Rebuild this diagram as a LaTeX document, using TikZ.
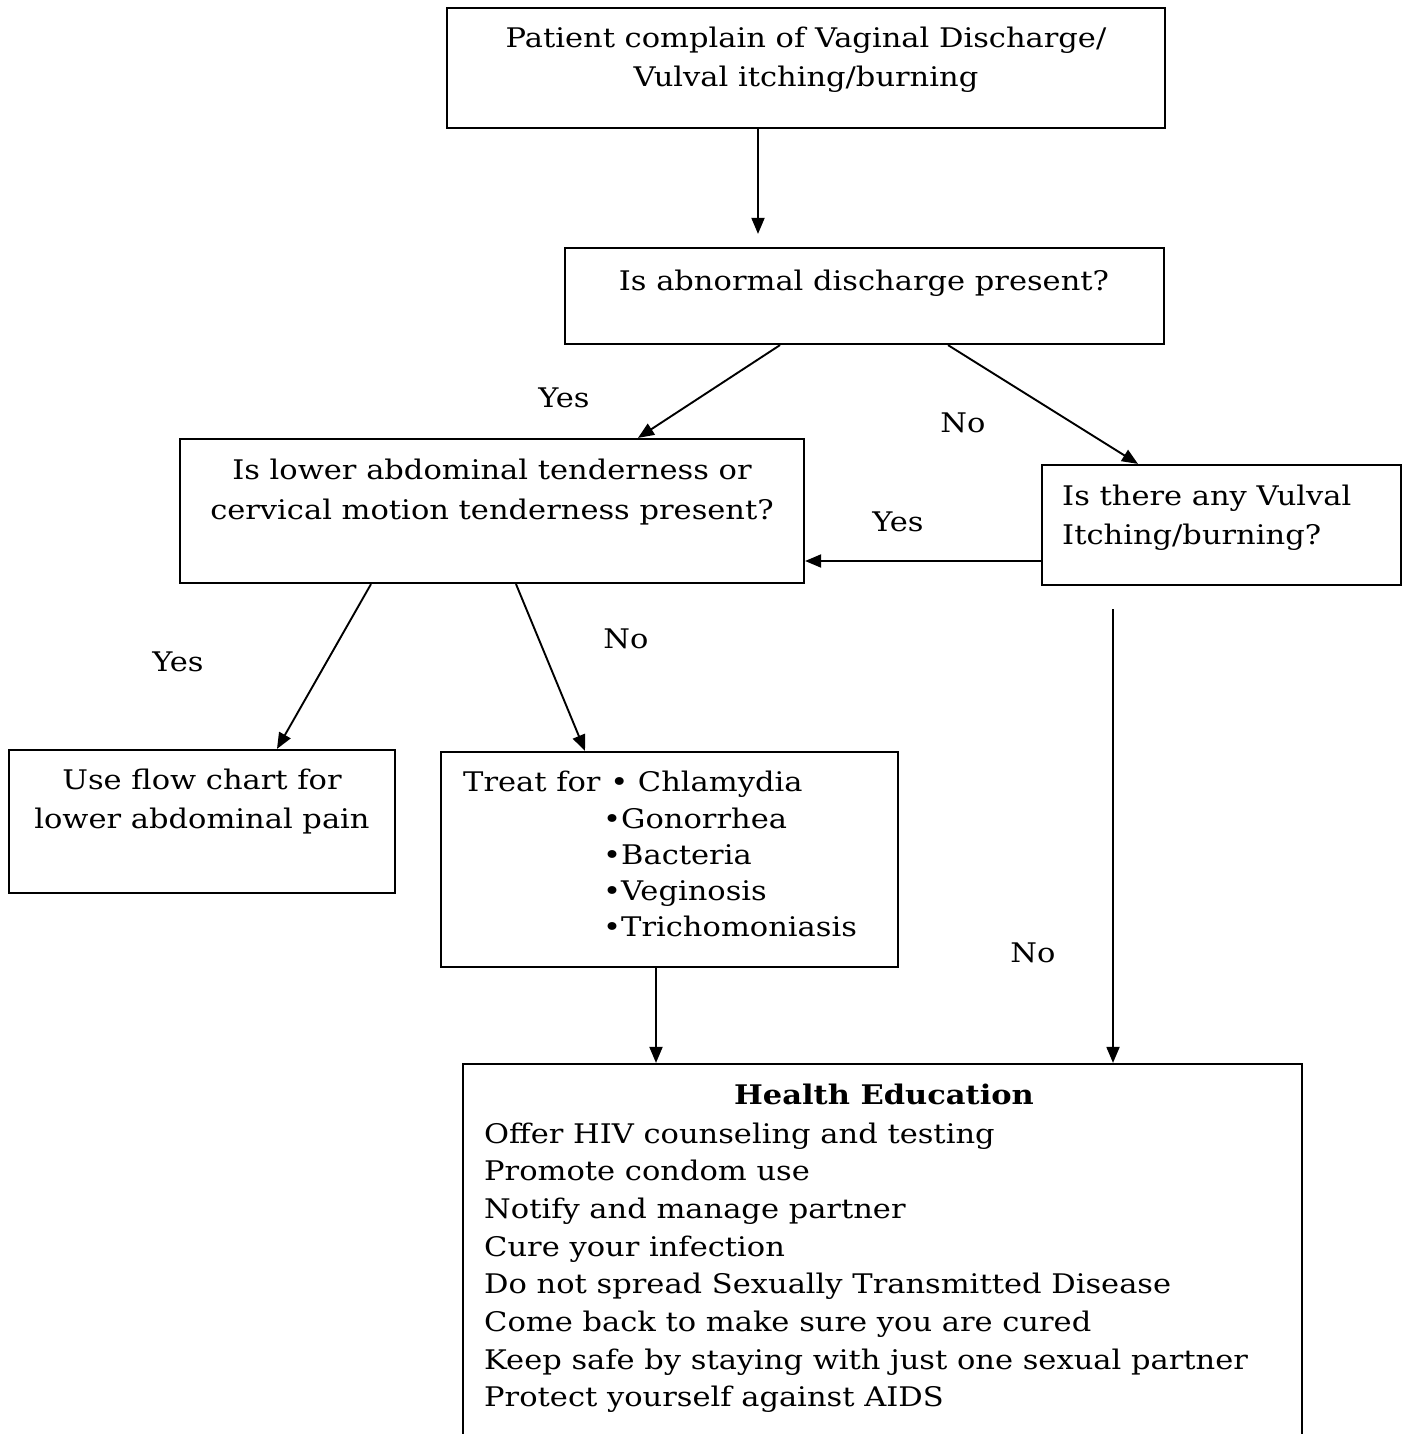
\documentclass[tikz,border=0pt]{standalone}
\usepackage{fontspec}
\setmainfont[FakeStretch=1.13]{DejaVu Serif}
\usetikzlibrary{arrows.meta}
% stacked lines whose baseline is the first line's baseline
\newcommand\txtlines[2]{\begin{tabular}[t]{@{}#1@{}}#2\end{tabular}}
\begin{document}
\begin{tikzpicture}[x=1pt,y=-1pt,
  box/.style={draw, line width=2.2pt, inner sep=0pt},
  flow/.style={-{Triangle[length=16pt,width=13pt]}, line width=1.9pt},
  txt/.style={inner sep=0pt, anchor=base},
  txtl/.style={inner sep=0pt, anchor=base west},
  lbl/.style={inner sep=0pt, anchor=base, font=\fontsize{27}{30}\selectfont}]
\useasboundingbox (0,0) rectangle (1409,1434);
\clip (0,0) rectangle (1409,1434);

% boxes
\node[box, minimum width=718pt, minimum height=120pt] (b1) at (806,68) {};
\node[box, minimum width=599pt, minimum height=96pt] (b2) at (864.5,296) {};
\node[box, minimum width=624pt, minimum height=144pt] (b3) at (492,511) {};
\node[box, minimum width=359pt, minimum height=120pt] (b4) at (1221.5,525) {};
\node[box, minimum width=386pt, minimum height=143pt] (b5) at (202,821.5) {};
\node[box, minimum width=457pt, minimum height=215pt] (b6) at (669.5,859.5) {};
\node[box, minimum width=839pt, minimum height=396pt] (b7) at (882.5,1262) {};

% box texts
\node[txt, font=\fontsize{27}{39}\selectfont] (t1) at (806,48)
  {\txtlines{c}{Patient complain of Vaginal Discharge/\\Vulval itching/burning}};
\node[txt, font=\fontsize{27}{41}\selectfont] (t2) at (864,290)
  {Is abnormal discharge present?};
\node[txt, font=\fontsize{27}{40}\selectfont] (t3) at (492,479)
  {\txtlines{c}{Is lower abdominal tenderness or\\cervical motion tenderness present?}};
\node[txtl, font=\fontsize{27}{39.5}\selectfont] (t4) at (1062,505)
  {\txtlines{l}{Is there any Vulval\\Itching/burning?}};
\node[txt, font=\fontsize{27}{39}\selectfont] (t5) at (202,789)
  {\txtlines{c}{Use flow chart for\\lower abdominal pain}};
\node[txtl, font=\fontsize{27}{36.25}\selectfont] (t6a) at (463,791) {Treat for • Chlamydia};
\node[txtl, font=\fontsize{27}{36.25}\selectfont] (t6b) at (603,828)
  {\txtlines{l}{•Gonorrhea\\•Bacteria\\•Veginosis\\•Trichomoniasis}};
\node[txt, font=\fontsize{27}{30}\selectfont\bfseries] (t7h) at (884,1104) {Health Education};
\node[txtl, font=\fontsize{27}{37.7}\selectfont] (t7) at (484,1143)
  {\txtlines{l}{Offer HIV counseling and testing\\
    Promote condom use\\
    Notify and manage partner\\
    Cure your infection\\
    Do not spread Sexually Transmitted Disease\\
    Come back to make sure you are cured\\
    Keep safe by staying with just one sexual partner\\
    Protect yourself against AIDS}};

% connectors
\draw[flow] ([xshift=-48pt]b1.south) -- ([xshift=-106.5pt,yshift=13pt]b2.north);
\draw[flow] ([xshift=-84.5pt]b2.south) -- ([xshift=146pt]b3.north);
\draw[flow] ([xshift=83.5pt]b2.south) -- ([xshift=-83.5pt]b4.north);
\draw[flow] ([yshift=-36pt]b4.west) -- ([yshift=-50pt]b3.east);
\draw[flow] ([xshift=-108.5pt,yshift=-23pt]b4.south) -- ([xshift=230.5pt]b7.north);
\draw[flow] ([xshift=-121pt]b3.south) -- ([xshift=75pt]b5.north);
\draw[flow] ([xshift=24pt]b3.south) -- ([xshift=-84.5pt]b6.north);
\draw[flow] ([xshift=-13.5pt]b6.south) -- ([xshift=-226.5pt]b7.north);

% branch labels
\node[lbl] (l1) at (564,407) {Yes};
\node[lbl] (l2) at (963,432) {No};
\node[lbl] (l3) at (898,531) {Yes};
\node[lbl] (l4) at (1033,962) {No};
\node[lbl] (l5) at (178,671) {Yes};
\node[lbl] (l6) at (626,648) {No};
\end{tikzpicture}
\end{document}
